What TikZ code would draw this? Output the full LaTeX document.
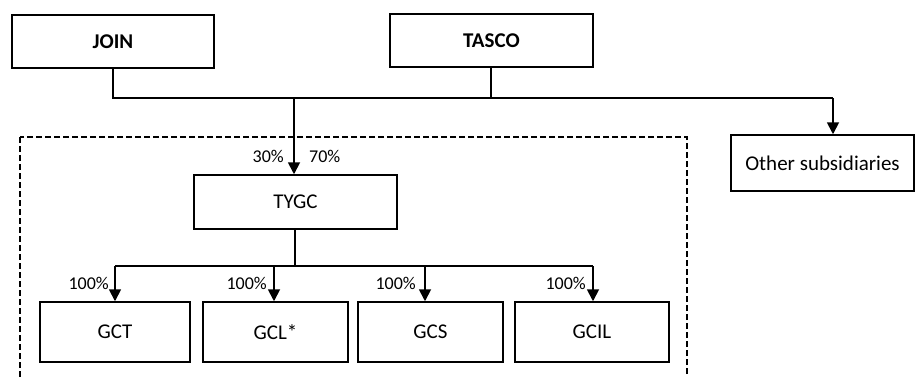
\documentclass[tikz,border=0pt]{standalone}
\usepackage{fontspec}
\setmainfont{Carlito}
\usetikzlibrary{arrows.meta}
\begin{document}
\begin{tikzpicture}[x=1pt,y=-1pt,
  box/.style={draw,line width=1.5pt,inner sep=0pt,font=\fontsize{21}{25}\selectfont},
  conn/.style={line width=1.8pt},
  arr/.style={conn,-{Triangle[width=12pt,length=12pt]}},
  pct/.style={font=\fontsize{18}{21}\selectfont,inner sep=1pt}]
\useasboundingbox (0,0) rectangle (919,376);
\begin{scope}
\clip (0,0) rectangle (919,376);
\draw[line width=1.4pt,dash pattern=on 6pt off 3pt] (20,137) rectangle (687,390);
\end{scope}
\node[box,minimum width=202pt,minimum height=53pt] (join) at (113,41.5) {\bfseries JOIN};
\node[box,minimum width=203pt,minimum height=53pt] (tasco) at (491.5,40.5) {\bfseries TASCO};
\node[box,minimum width=183pt,minimum height=56pt] (other) at (822.5,163) {Other subsidiaries};
\node[box,minimum width=203pt,minimum height=54pt] (tygc) at (295.5,202) {TYGC};
\node[box,minimum width=150pt,minimum height=60pt] (gct) at (115,332) {GCT};
\node[box,minimum width=145pt,minimum height=60pt] (gcl) at (275.5,332) {GCL*};
\node[box,minimum width=145pt,minimum height=60pt] (gcs) at (430.5,332) {GCS};
\node[box,minimum width=154pt,minimum height=60pt] (gcil) at (592,332) {GCIL};
\coordinate (j1) at (113,98);
\coordinate (t1) at (491,98);
\coordinate (m1) at (294,98);
\coordinate (r1) at (833,98);
\coordinate (y1) at (295,266);
\coordinate (b1) at (115,266);
\coordinate (b4) at (593,266);
\coordinate (b2) at (274,266);
\coordinate (b3) at (425,266);
\draw[conn] (join.south) -- (j1) -- (r1);
\draw[conn] (tasco.south -| t1) -- (t1);
\draw[arr] (m1) -- (m1 |- tygc.north);
\draw[arr] (r1) -- (r1 |- other.north);
\draw[conn] (tygc.south -| y1) -- (y1);
\draw[conn] (b1) -- (b4);
\draw[arr] (b1) -- (b1 |- gct.north);
\draw[arr] (b2) -- (b2 |- gcl.north);
\draw[arr] (b3) -- (b3 |- gcs.north);
\draw[arr] (b4) -- (b4 |- gcil.north);
\node[pct,anchor=east] (p30) at (285,156) {30\%};
\node[pct,anchor=west] (p70) at (308,156) {70\%};
\node[pct,anchor=east] (q1) at (110,283) {100\%};
\node[pct,anchor=east] (q2) at (268,283) {100\%};
\node[pct,anchor=east] (q3) at (417,283) {100\%};
\node[pct,anchor=east] (q4) at (587,283) {100\%};
\end{tikzpicture}
\end{document}
